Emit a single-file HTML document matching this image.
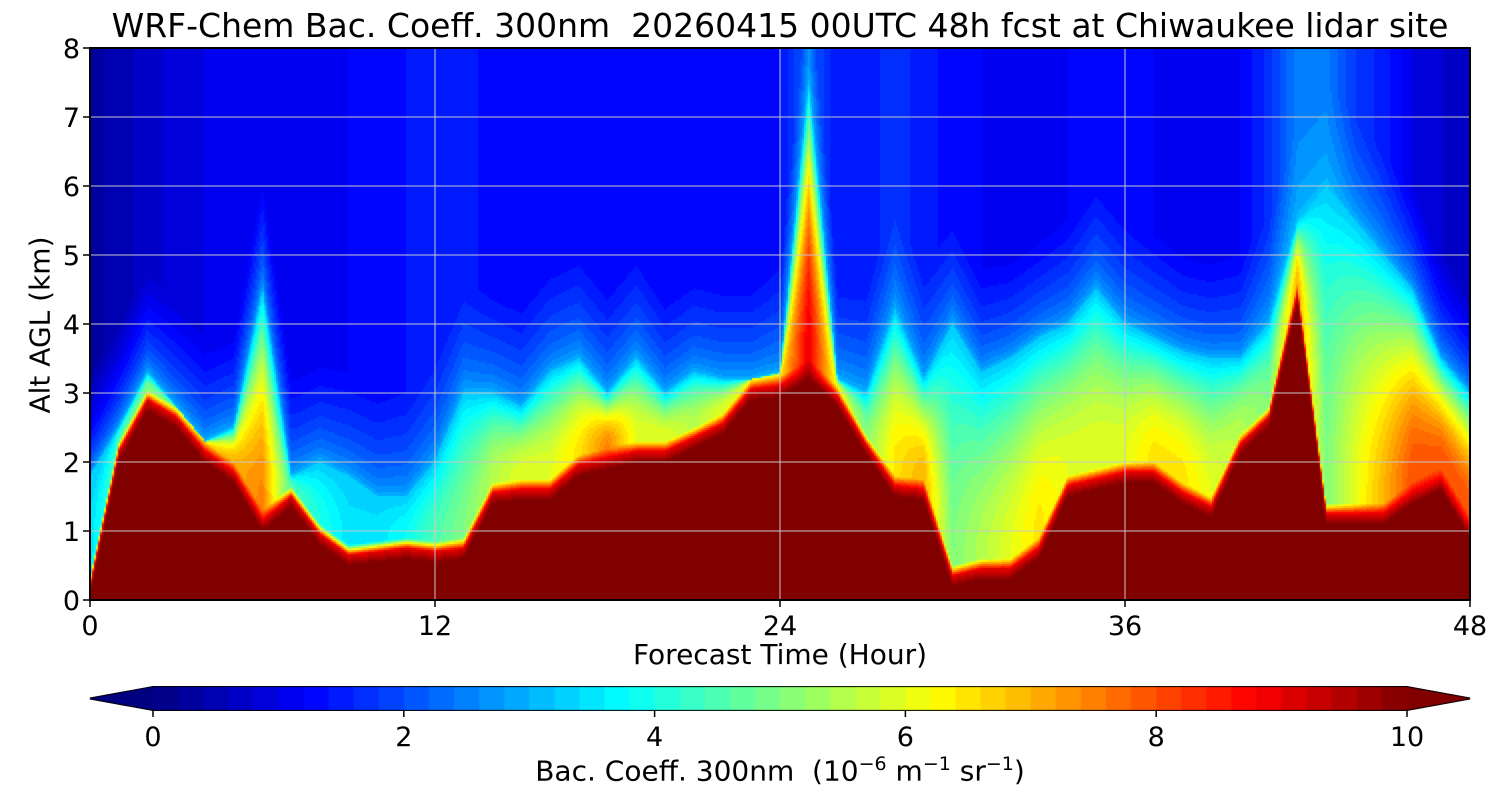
<!DOCTYPE html>
<html><head><meta charset="utf-8">
<style>
html,body{margin:0;padding:0;background:#fff;width:1500px;height:800px;overflow:hidden;font-family:"DejaVu Sans","Liberation Sans",sans-serif;}
#wrap{position:relative;width:1500px;height:800px;}
canvas{position:absolute;}
.t{position:absolute;color:#000;white-space:nowrap;}
</style></head>
<body>
<div id="wrap">
<div class="t" style="left:780px;transform:translateX(-50%);top:6px;font-size:33px;">WRF-Chem Bac. Coeff. 300nm&nbsp; 20260415 00UTC 48h fcst at Chiwaukee lidar site</div>
<canvas id="plot" width="1380" height="552" style="left:90px;top:48px;"></canvas>
<svg id="axes" width="1500" height="800" style="position:absolute;left:0;top:0;"></svg>
<div class="t" style="left:40px;top:325px;font-size:28px;transform:translate(-50%,-50%) rotate(-90deg);">Alt AGL (km)</div>
<div class="t" style="left:780px;top:638px;font-size:28px;transform:translateX(-50%);">Forecast Time (Hour)</div>
<canvas id="cbar" width="1384" height="30" style="left:88px;top:684px;"></canvas>
<div class="t" style="left:780px;top:753px;font-size:28px;transform:translateX(-50%);">Bac. Coeff. 300nm&nbsp; (10<sup style="font-size:19px">−6</sup> m<sup style="font-size:19px">−1</sup> sr<sup style="font-size:19px">−1</sup>)</div>
</div>
<script>
// data: per-hour values (0..48)
const hours = [0,1,2,3,4,5,6,7,8,9,10,11,12,13,14,15,16,17,18,19,20,21,22,23,24,25,26,27,28,29,30,31,32,33,34,35,36,37,38,39,40,41,42,43,44,45,46,47,48];
const pblTop = [0.05,2.0,2.75,2.5,2.0,1.7,1.0,1.35,0.8,0.5,0.55,0.6,0.55,0.6,1.4,1.45,1.45,1.8,1.9,2.0,2.0,2.2,2.4,2.9,2.95,3.2,2.8,2.1,1.5,1.45,0.2,0.3,0.3,0.6,1.5,1.6,1.7,1.7,1.4,1.2,2.1,2.5,4.3,1.1,1.1,1.1,1.4,1.6,0.9];
const layerTop = [1.8,2.5,3.3,2.8,2.3,2.5,4.5,1.8,2.0,1.8,1.5,1.5,2.0,3.0,3.0,2.8,3.3,3.5,3.0,3.5,3.0,3.3,3.2,3.2,3.3,7.5,3.2,3.0,4.2,3.2,4.0,3.3,3.5,3.8,4.0,4.5,4.0,3.8,3.6,3.5,3.5,4.0,5.5,6.0,5.5,5.0,4.5,3.5,3.0];
const midVal = [3.5,4.5,5,5,6.5,7,7.5,4.5,4,3.5,3.5,3.8,4.5,5,5.5,6,6,6.5,7.5,6,6,5.5,6,6,6.5,9,6,5,6.5,7,5,5.5,6,6.5,6,6,6,6.5,6.5,6,5.5,5,7,5,6,7,8,8,8];
const bgVal = [0.3,0.5,0.7,0.9,1.0,1.0,1.2,1.1,1.1,1.2,1.3,1.4,1.5,1.5,1.3,1.3,1.3,1.3,1.3,1.3,1.2,1.2,1.2,1.2,1.4,2.2,1.4,1.5,1.7,1.5,1.3,1.2,1.1,1.1,1.2,1.3,1.3,1.2,1.1,1.1,1.2,1.7,2.5,2.5,1.8,1.5,1.0,0.8,0.6];
const xTicks = [0,12,24,36,48];
const yTicks = [0,1,2,3,4,5,6,7,8];
const cbTicks = [0,2,4,6,8,10];

const X0=90,X1=1470,Y0=600,Y1=48;
const xs = t => X0 + (t/48)*(X1-X0);
const ys = z => Y0 - (z/8)*(Y0-Y1);
function jet(v){
  let x=Math.max(0,Math.min(1,v/10));
  x=Math.floor(x*50)/50+0.01;
  const c=a=>Math.round(255*Math.max(0,Math.min(1,a)));
  return [c(1.5-Math.abs(4*x-3)),c(1.5-Math.abs(4*x-2)),c(1.5-Math.abs(4*x-1))];
}
function interp(arr,t){const i=Math.min(47,Math.floor(t));const f=t-i;return arr[i]*(1-f)+arr[i+1]*f;}
function value(t,z){
  const p=interp(pblTop,t), L=Math.max(interp(layerTop,t),p+0.3), m=interp(midVal,t), b=interp(bgVal,t);
  if(z<p) return 11;
  const d=z-p;
  if(d<0.3){return 10-(10-Math.max(m,8))*d/0.3 - (d>0.15?(Math.max(m,8)-m)*(d-0.15)/0.15:0);}
  if(z<L){const f=(z-p-0.3)/Math.max(0.01,L-p-0.3);return m+(3.2-m)*f*f;}
  const f=Math.min(1,(z-L)/1.5);return 3.2+(b-3.2)*Math.sqrt(f);
}
const cv=document.getElementById('plot').getContext('2d');
for(let px=0;px<1380;px+=2){
  const t=(px+1)/1380*48;
  for(let py=0;py<552;py+=2){
    const z=(552-py-1)/552*8;
    const v=value(t,z);
    const col=v>10?[128,0,0]:jet(v);
    cv.fillStyle='rgb('+col.join(',')+')';
    cv.fillRect(px,py,2,2);
  }
}
const svg=document.getElementById('axes');const NS='http://www.w3.org/2000/svg';
const FF='DejaVu Sans, Liberation Sans, sans-serif';
function mk(tag,attrs){const e=document.createElementNS(NS,tag);for(const k in attrs)e.setAttribute(k,attrs[k]);svg.appendChild(e);return e;}
xTicks.forEach(t=>{
  const g=mk('line',{x1:xs(t),x2:xs(t),y1:Y1,y2:Y0,stroke:'#c8c8c8','stroke-width':1});
  
  
  const tk=mk('line',{x1:xs(t),x2:xs(t),y1:Y0,y2:Y0+7,stroke:'#000','stroke-width':1.5});
  
  
  const tx=mk('text',{x:xs(t),y:Y0+35,'font-size':27,'text-anchor':'middle','font-family':FF});
  tx.textContent=t;
  
  
});
yTicks.forEach(z=>{
  const g=mk('line',{x1:X0,x2:X1,y1:ys(z),y2:ys(z),stroke:'#c8c8c8','stroke-width':1});
  
  
  const tk=mk('line',{x1:X0-7,x2:X0,y1:ys(z),y2:ys(z),stroke:'#000','stroke-width':1.5});
  
  
  const tx=mk('text',{x:X0-10,y:ys(z)+10,'font-size':27,'text-anchor':'end','font-family':FF});
  tx.textContent=z;
  
  
});
const fr=mk('rect',{x:X0,y:Y1,width:X1-X0,height:Y0-Y1,fill:'none',stroke:'#000','stroke-width':2});


const CB0=153,CB1=1407,CT=687,CBt=710;
const cs=v=>CB0+(v/10)*(CB1-CB0);
const cb=document.getElementById('cbar').getContext('2d');
const ox=88,oy=684;
for(let i=0;i<50;i++){const v=i*0.2+0.1;cb.fillStyle='rgb('+jet(v).join(',')+')';cb.fillRect(cs(i*0.2)-ox,CT-oy,cs(0.2)-cs(0)+1,CBt-CT);}
cb.fillStyle='rgb(0,0,128)';cb.beginPath();cb.moveTo(CB0-ox,CT-oy);cb.lineTo(90-ox,(CT+CBt)/2-oy);cb.lineTo(CB0-ox,CBt-oy);cb.fill();
cb.fillStyle='rgb(128,0,0)';cb.beginPath();cb.moveTo(CB1-ox,CT-oy);cb.lineTo(1470-ox,(CT+CBt)/2-oy);cb.lineTo(CB1-ox,CBt-oy);cb.fill();
const ol=mk('polygon',{points:`${CB0},${CT} ${CB1},${CT} 1470,${(CT+CBt)/2} ${CB1},${CBt} ${CB0},${CBt} 90,${(CT+CBt)/2}`,fill:'none',stroke:'#000','stroke-width':2});


cbTicks.forEach(v=>{
  const tk=mk('line',{x1:cs(v),x2:cs(v),y1:CBt,y2:CBt+7,stroke:'#000','stroke-width':1.5});
  
  
  const tx=mk('text',{x:cs(v),y:CBt+36,'font-size':27,'text-anchor':'middle','font-family':FF});
  tx.textContent=v;
  
  
});
</script>
</body></html>
